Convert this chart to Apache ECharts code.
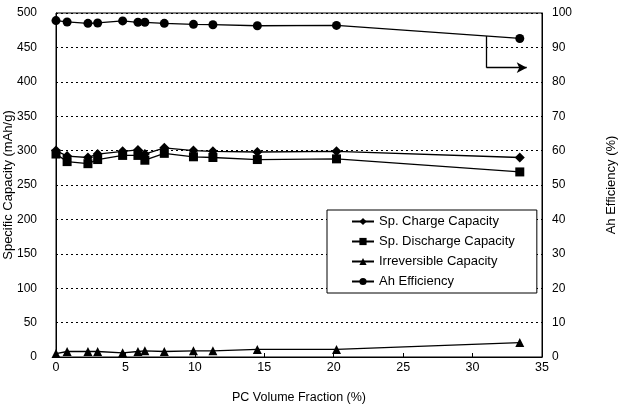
<!DOCTYPE html>
<html>
<head>
<meta charset="utf-8">
<script src="https://cdn.jsdelivr.net/npm/echarts@6/dist/echarts.min.js"></script>
<style>html,body{margin:0;padding:0;background:#fff}#c{width:626px;height:406px}</style>
</head>
<body>
<div id="c"></div>
<script>
var pcFraction = [0, 0.8, 2.3, 3.0, 4.8, 5.9, 6.4, 7.8, 9.9, 11.3, 14.5, 20.2, 33.4];
var chargeCap = [300, 292, 290, 295, 299, 301, 295, 304, 300, 299, 298, 299, 290];
var dischargeCap = [295, 284, 281, 287, 293, 293, 286, 296, 291, 290, 287, 288, 269];
var irreversibleCap = [5, 8, 8, 8, 6, 8, 9, 8, 9, 9, 11, 11, 21];
var ahEfficiency = [97.8, 97.4, 97.0, 97.1, 97.7, 97.3, 97.3, 97.0, 96.7, 96.6, 96.3, 96.4, 92.6];
var leftTicks = [0, 50, 100, 150, 200, 250, 300, 350, 400, 450, 500];
var rightTicks = [0, 10, 20, 30, 40, 50, 60, 70, 80, 90, 100];
var xTicks = [0, 5, 10, 15, 20, 25, 30, 35];
var arrowPath = [[31, 93.3], [31, 84.1], [33.9, 84.1]];

function pairs(ys) { return pcFraction.map(function (x, i) { return [x, ys[i]]; }); }

var font = 'Liberation Sans, Arial, sans-serif';
var chart = echarts.init(document.getElementById('c'), null, { renderer: 'canvas' });
function baseSeries(name, data, symbol, size, yIdx) {
  return {
    name: name, type: 'line', data: pairs(data), yAxisIndex: yIdx || 0,
    symbol: symbol, symbolSize: size, showSymbol: true,
    lineStyle: { color: '#000', width: 1.3 },
    itemStyle: { color: '#000' },
    emphasis: { disabled: true }, animation: false, z: 3
  };
}
var ahSeries = baseSeries('Ah Efficiency', ahEfficiency, 'circle', 9, 1);
ahSeries.markLine = {
  silent: true, symbol: ['none', 'none'], animation: false,
  lineStyle: { color: '#000', width: 1.3, type: 'solid' }, label: { show: false },
  data: [
    [{ coord: arrowPath[0], symbol: 'none' }, { coord: arrowPath[1], symbol: 'none' }],
    [{ coord: arrowPath[1], symbol: 'none' }, { coord: arrowPath[2], symbol: 'arrow', symbolSize: [8, 10] }]
  ]
};
chart.setOption({
  backgroundColor: '#fff',
  animation: false,
  textStyle: { fontFamily: font, color: '#000' },
  grid: { left: 56, right: 84, top: 13, bottom: 49, containLabel: false, outerBoundsMode: 'none', show: true, borderColor: '#000', borderWidth: 1, backgroundColor: 'transparent' },
  legend: {
    orient: 'vertical', left: 327, top: 210,
    backgroundColor: '#fff', borderColor: '#000', borderWidth: 1,
    padding: [5, 22, 5, 24], itemGap: 7, itemWidth: 22, itemHeight: 9,
    textStyle: { fontFamily: font, fontSize: 13, color: '#000' },
    selectedMode: false,
    data: ['Sp. Charge Capacity', 'Sp. Discharge Capacity', 'Irreversible Capacity', 'Ah Efficiency']
  },
  xAxis: {
    type: 'value', min: xTicks[0], max: xTicks[xTicks.length - 1], interval: 5,
    name: 'PC Volume Fraction (%)', nameLocation: 'middle', nameGap: 34, nameMoveOverlap: false,
    nameTextStyle: { fontFamily: font, fontSize: 12.5, color: '#000' },
    axisLine: { show: true, lineStyle: { color: '#000', width: 1 } },
    axisTick: { show: true, inside: true, length: 4, lineStyle: { color: '#000' } },
    axisLabel: { fontFamily: font, fontSize: 12.5, color: '#000', margin: 4 },
    splitLine: { show: false }
  },
  yAxis: [{
    type: 'value', min: leftTicks[0], max: leftTicks[leftTicks.length - 1], interval: 50,
    name: 'Specific Capacity (mAh/g)', nameLocation: 'middle', nameGap: 41, nameRotate: 90, nameMoveOverlap: false,
    nameTextStyle: { fontFamily: font, fontSize: 13, color: '#000' },
    axisLine: { show: true, lineStyle: { color: '#000', width: 1 } },
    axisTick: { show: false },
    axisLabel: { fontFamily: font, fontSize: 12, color: '#000', margin: 19 },
    splitLine: { show: true, lineStyle: { color: '#000', type: [2, 3], width: 1 } }
  }, {
    type: 'value', min: rightTicks[0], max: rightTicks[rightTicks.length - 1], interval: 10,
    name: 'Ah Efficiency (%)', nameLocation: 'middle', nameGap: 63, nameRotate: 90, nameMoveOverlap: false,
    nameTextStyle: { fontFamily: font, fontSize: 13, color: '#000' },
    axisLine: { show: true, lineStyle: { color: '#000', width: 1 } },
    axisTick: { show: false },
    axisLabel: { fontFamily: font, fontSize: 12, color: '#000', margin: 10 },
    splitLine: { show: false }
  }],
  series: [
    baseSeries('Sp. Charge Capacity', chargeCap, 'diamond', 10),
    baseSeries('Sp. Discharge Capacity', dischargeCap, 'rect', 9),
    baseSeries('Irreversible Capacity', irreversibleCap, 'triangle', 9),
    ahSeries
  ]
});
</script>
</body>
</html>
